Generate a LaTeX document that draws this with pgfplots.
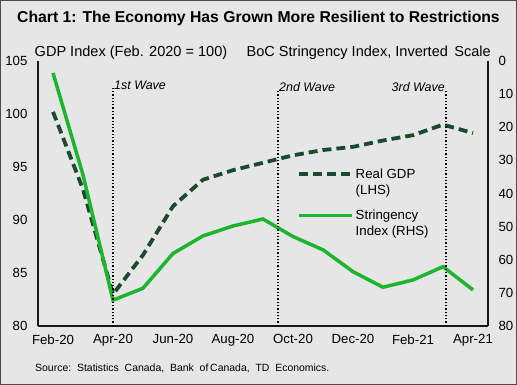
\documentclass[border=0pt]{standalone}
\usepackage{pgfplots}
\pgfplotsset{compat=1.18}
\usepackage{fontspec}
\setmainfont{Liberation Sans}
\definecolor{bg}{HTML}{E6E6E6}
\definecolor{gdp}{HTML}{1B4A2E}
\definecolor{strc}{HTML}{1CB52E}
\begin{document}
\begin{tikzpicture}
\fill[bg] (0,0) rectangle (517bp,385bp);
\draw[black!70, line width=1bp] (0.5bp,0.5bp) rectangle (516.5bp,384.5bp);
\node[font=\fontsize{15.8}{18}\selectfont\bfseries, anchor=center] at (258.5bp,367bp) {Chart 1: The Economy Has Grown More Resilient to Restrictions};
\node[font=\fontsize{14.6}{16}\selectfont, anchor=base west, inner sep=0pt] at (34.5bp,328bp) {GDP Index (Feb. 2020 = 100)};
\node[font=\fontsize{14.6}{16}\selectfont, anchor=base east, inner sep=0pt] at (491bp,328bp) {BoC Stringency Index, Inverted\, Scale};
\node[font=\fontsize{10.5}{12}\selectfont, anchor=base west, inner sep=0pt] at (35bp,13.5bp) {Source:\ \ Statistics\ \ Canada,\ \ Bank\ \ of\,Canada,\ \ TD\ \ Economics.};
\begin{axis}[
  at={(38bp,59bp)}, anchor=south west,
  scale only axis, width=450bp, height=265bp,
  xmin=-0.5, xmax=14.5, ymin=80, ymax=105,
  axis x line*=bottom, axis y line*=left,
  axis line style={line width=2bp, black!90, -},
  xtick={0,2,...,14},
  xticklabels={Feb-20,Apr-20,Jun-20,Aug-20,Oct-20,Dec-20,Feb-21,Apr-21},
  ytick={80,85,...,105},
  major tick length=0pt,
  tick label style={font=\fontsize{13.3}{15}\selectfont},
  /pgf/number format/assume math mode=true,
  yticklabel style={xshift=-7bp},
  xticklabel style={yshift=-5bp},
  clip=false,
]
\addplot[gdp, line width=3.8bp, dash pattern=on 9bp off 5bp] coordinates {
(0,100.2) (1,92.9) (2,83.0) (3,86.7) (4,91.3) (5,93.8) (6,94.7) (7,95.4)
(8,96.1) (9,96.6) (10,96.9) (11,97.5) (12,98.0) (13,99.0) (14,98.2)};
\end{axis}
\begin{axis}[
  at={(38bp,59bp)}, anchor=south west,
  scale only axis, width=450bp, height=265bp,
  xmin=-0.5, xmax=14.5, ymin=0, ymax=80, y dir=reverse,
  axis x line=none, axis y line*=right,
  axis line style={line width=2bp, black!90, -},
  ytick={0,10,...,80},
  major tick length=0pt,
  tick label style={font=\fontsize{13.3}{15}\selectfont},
  /pgf/number format/assume math mode=true,
  yticklabel style={xshift=7bp},
  clip=false,
  legend image code/.code={\draw[#1] (0bp,0bp) -- (53bp,0bp);},
  legend style={at={(0.575,0.605)}, anchor=north west, draw=none, fill=none,
    font=\fontsize{13.3}{15.5}\selectfont, inner sep=0pt, row sep=25bp,
    cells={anchor=north west}},
  legend cell align=left,
]
\addlegendimage{gdp, line width=3.8bp, dash pattern=on 9bp off 5bp}
\addlegendentry{\begin{tabular}[t]{@{}l@{}}Real GDP\\(LHS)\end{tabular}}
\addplot[strc, line width=3.5bp] coordinates {
(0,3.6) (1,34.4) (2,72.2) (3,68.6) (4,58.1) (5,52.8) (6,49.8) (7,47.7)
(8,53.0) (9,57.0) (10,63.6) (11,68.3) (12,66.1) (13,62.1) (14,69.1)};
\addlegendentry{\begin{tabular}[t]{@{}l@{}}Stringency\\Index (RHS)\end{tabular}}
\addplot[black, line width=1.3bp, dotted, forget plot] coordinates {(2,80) (2,8.2)};
\addplot[black, line width=1.3bp, dotted, forget plot] coordinates {(7.5,80) (7.5,8.8)};
\addplot[black, line width=1.3bp, dotted, forget plot] coordinates {(13.1,80) (13.1,8.8)};
\node[font=\fontsize{12.5}{14}\selectfont\itshape, anchor=south west, inner sep=1pt, yshift=-3bp] at (axis cs:2,8.2) {1st Wave};
\node[font=\fontsize{12.5}{14}\selectfont\itshape, anchor=south west, inner sep=1pt, yshift=-3bp] at (axis cs:7.5,8.8) {2nd Wave};
\node[font=\fontsize{12.5}{14}\selectfont\itshape, anchor=south east, inner sep=1pt, yshift=-3bp] at (axis cs:13.1,8.8) {3rd Wave};
\end{axis}
\end{tikzpicture}
\end{document}
